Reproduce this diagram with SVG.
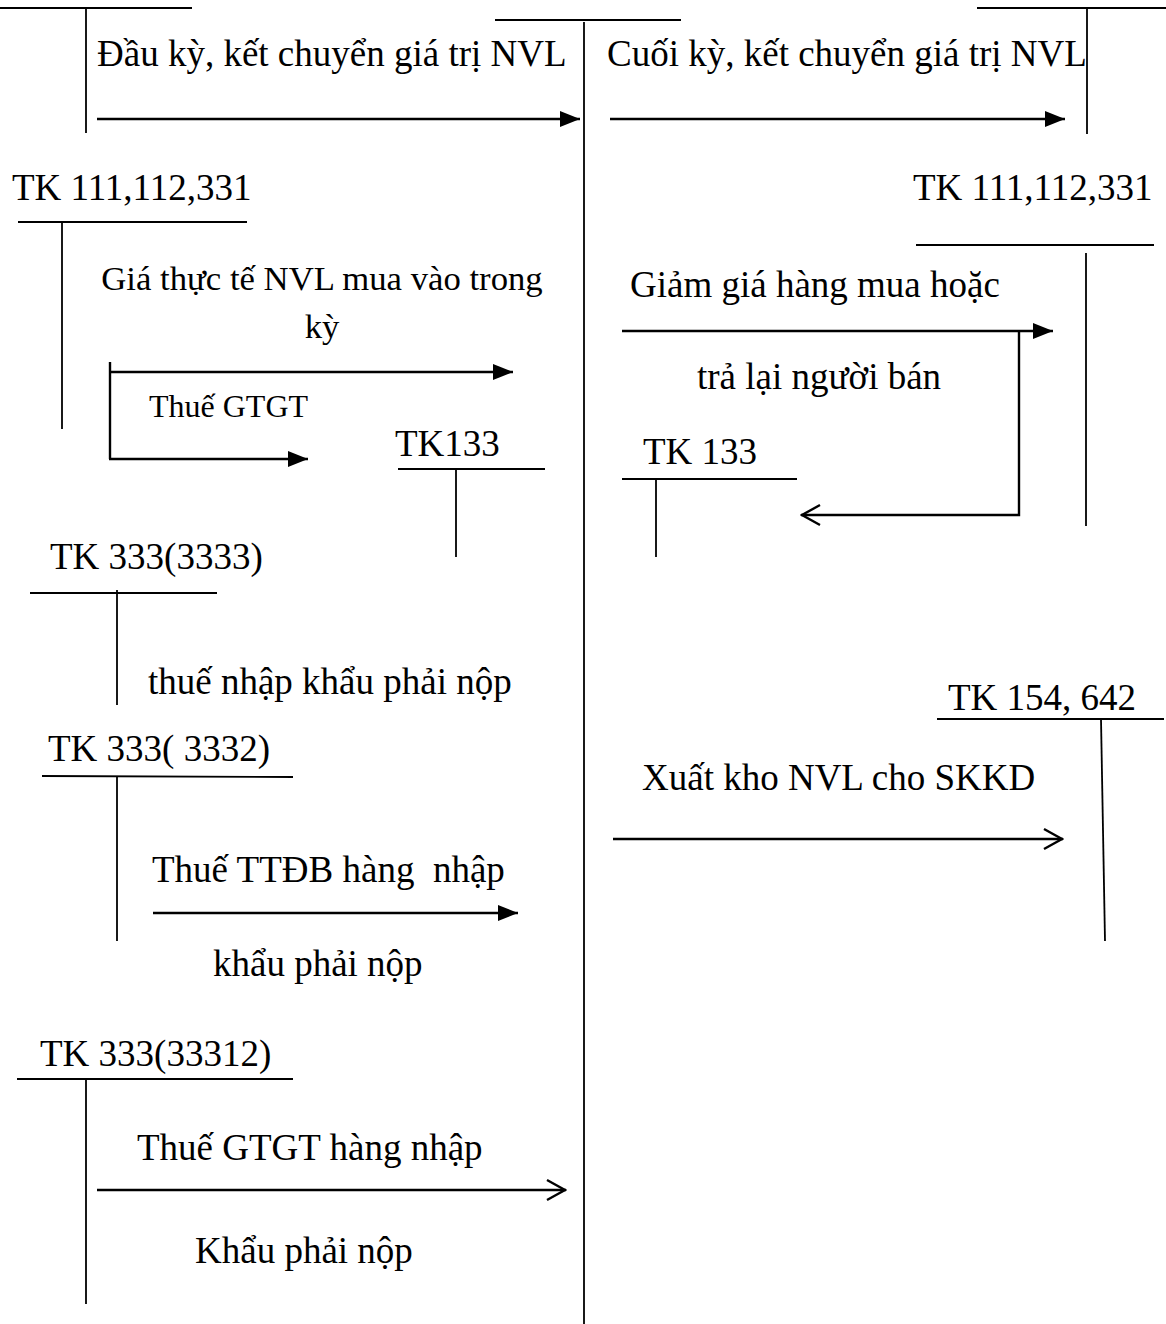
<svg xmlns="http://www.w3.org/2000/svg" width="1166" height="1324" viewBox="0 0 1166 1324">
<style>
.t{font-family:"Liberation Serif","Times New Roman",serif;font-size:37px;fill:#000}
.s{font-size:32px}
.m{font-size:34.7px}
.ln{stroke:#000;stroke-width:1.8;fill:none}
.ar{stroke:#000;stroke-width:2.4;fill:none}
</style>
<defs>
<marker id="fa" viewBox="0 0 20 16" refX="20" refY="8" markerWidth="20" markerHeight="16" markerUnits="userSpaceOnUse" orient="auto">
<path d="M0,0 L20,8 L0,16 Z" fill="#000"/>
</marker>
<marker id="oa" viewBox="0 0 22 24" refX="21" refY="12" markerWidth="22" markerHeight="24" markerUnits="userSpaceOnUse" orient="auto">
<path d="M2,2 L20,12 L2,22" fill="none" stroke="#000" stroke-width="2.4"/>
</marker>
</defs>
<rect width="1166" height="1324" fill="#fff"/>

<g id="tk-top-left">
<line class="ln" x1="0" y1="8" x2="192" y2="8"/>
<line class="ln" x1="86" y1="8" x2="86" y2="133"/>
</g>
<g id="tk-top-mid">
<line class="ln" x1="495" y1="20" x2="681" y2="20"/>
<line class="ln" x1="584" y1="22" x2="584" y2="1324"/>
</g>
<g id="tk-top-right">
<line class="ln" x1="977" y1="8" x2="1166" y2="8"/>
<line class="ln" x1="1087" y1="8" x2="1087" y2="134"/>
</g>

<g id="tk-111-left">
<text class="t" x="12" y="200">TK 111,112,331</text>
<line class="ln" x1="18" y1="222" x2="247" y2="222"/>
<line class="ln" x1="62" y1="222" x2="62" y2="429"/>
</g>
<g id="tk-133-left">
<text class="t" x="395" y="456">TK133</text>
<line class="ln" x1="398" y1="469" x2="545" y2="469"/>
<line class="ln" x1="456" y1="469" x2="456" y2="557"/>
</g>
<g id="tk-3333">
<text class="t" x="50" y="569">TK 333(3333)</text>
<line class="ln" x1="30" y1="593" x2="217" y2="593"/>
<line class="ln" x1="117" y1="590" x2="117" y2="705"/>
</g>
<g id="tk-3332">
<text class="t" x="48" y="761">TK 333( 3332)</text>
<line class="ln" x1="42" y1="776" x2="293" y2="777"/>
<line class="ln" x1="117" y1="777" x2="117" y2="941"/>
</g>
<g id="tk-33312">
<text class="t" x="40" y="1066">TK 333(33312)</text>
<line class="ln" x1="17" y1="1079" x2="293" y2="1079"/>
<line class="ln" x1="86" y1="1079" x2="86" y2="1304"/>
</g>

<g id="tk-111-right">
<text class="t" x="913" y="200">TK 111,112,331</text>
<line class="ln" x1="916" y1="245" x2="1154" y2="245"/>
<line class="ln" x1="1086" y1="253" x2="1086" y2="526"/>
</g>
<g id="tk-133-right">
<text class="t" x="643" y="464">TK 133</text>
<line class="ln" x1="622" y1="479" x2="797" y2="479"/>
<line class="ln" x1="656" y1="479" x2="656" y2="557"/>
</g>
<g id="tk-154">
<text class="t" x="948" y="710">TK 154, 642</text>
<line class="ln" x1="937" y1="719" x2="1164" y2="719"/>
<line class="ln" x1="1101" y1="719" x2="1105" y2="941"/>
</g>

<g id="connectors">
<line class="ar" x1="97" y1="119" x2="580" y2="119" marker-end="url(#fa)"/>
<line class="ar" x1="610" y1="119" x2="1065" y2="119" marker-end="url(#fa)"/>
<line class="ar" x1="110" y1="362" x2="110" y2="459"/>
<line class="ar" x1="109" y1="372" x2="513" y2="372" marker-end="url(#fa)"/>
<line class="ar" x1="109" y1="459" x2="308" y2="459" marker-end="url(#fa)"/>
<line class="ar" x1="153" y1="913" x2="518" y2="913" marker-end="url(#fa)"/>
<line class="ar" x1="97" y1="1190" x2="566" y2="1190" marker-end="url(#oa)"/>
<line class="ar" x1="622" y1="331" x2="1053" y2="331" marker-end="url(#fa)"/>
<polyline class="ar" points="1019,331 1019,515 801,515" marker-end="url(#oa)"/>
<line class="ar" x1="613" y1="839" x2="1063" y2="839" marker-end="url(#oa)"/>
</g>

<g id="labels">
<text class="t" x="97" y="66">Đầu kỳ, kết chuyển giá trị NVL</text>
<text class="t" x="607" y="66">Cuối kỳ, kết chuyển giá trị NVL</text>
<text class="t m" x="322" y="290" text-anchor="middle">Giá thực tế NVL mua vào trong</text>
<text class="t m" x="322" y="338" text-anchor="middle">kỳ</text>
<text class="t s" x="149" y="417">Thuế GTGT</text>
<text class="t" x="148" y="694">thuế nhập khẩu phải nộp</text>
<text class="t" x="152" y="882" xml:space="preserve">Thuế TTĐB hàng  nhập</text>
<text class="t" x="213" y="976">khẩu phải nộp</text>
<text class="t" x="137" y="1160">Thuế GTGT hàng nhập</text>
<text class="t" x="195" y="1263">Khẩu phải nộp</text>
<text class="t" x="630" y="297">Giảm giá hàng mua hoặc</text>
<text class="t" x="697" y="389">trả lại người bán</text>
<text class="t" x="642" y="790">Xuất kho NVL cho SKKD</text>
</g>
</svg>
